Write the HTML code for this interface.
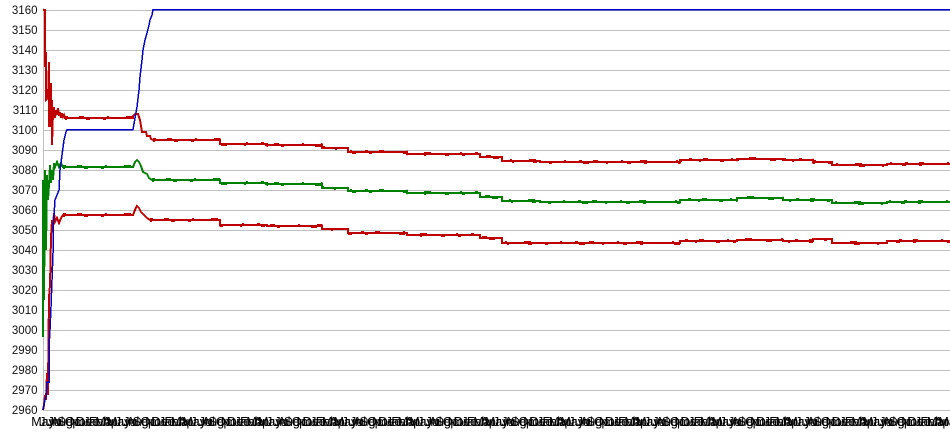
<!DOCTYPE html>
<html>
<head>
<meta charset="utf-8">
<style>
  html, body { margin:0; padding:0; background:#fff; }
  body { width:950px; height:435px; overflow:hidden; }
  svg { display:block; }
  .yl { font-family:"Liberation Sans", Arial, sans-serif; font-size:11.5px; fill:#111; }
  .xl { font-family:"Liberation Sans", Arial, sans-serif; font-size:12.5px; fill:#000; }
</style>
</head>
<body>
<svg width="950" height="435" viewBox="0 0 950 435" xmlns="http://www.w3.org/2000/svg">
  <rect x="0" y="0" width="950" height="435" fill="#fff"/>
  <!-- grid -->
  <g stroke="#c0c0c0" stroke-width="1" shape-rendering="crispEdges">
    <line x1="43" y1="10.5" x2="950" y2="10.5"/>
    <line x1="43" y1="30.5" x2="950" y2="30.5"/>
    <line x1="43" y1="50.5" x2="950" y2="50.5"/>
    <line x1="43" y1="70.5" x2="950" y2="70.5"/>
    <line x1="43" y1="90.5" x2="950" y2="90.5"/>
    <line x1="43" y1="110.5" x2="950" y2="110.5"/>
    <line x1="43" y1="130.5" x2="950" y2="130.5"/>
    <line x1="43" y1="150.5" x2="950" y2="150.5"/>
    <line x1="43" y1="170.5" x2="950" y2="170.5"/>
    <line x1="43" y1="190.5" x2="950" y2="190.5"/>
    <line x1="43" y1="210.5" x2="950" y2="210.5"/>
    <line x1="43" y1="230.5" x2="950" y2="230.5"/>
    <line x1="43" y1="250.5" x2="950" y2="250.5"/>
    <line x1="43" y1="270.5" x2="950" y2="270.5"/>
    <line x1="43" y1="290.5" x2="950" y2="290.5"/>
    <line x1="43" y1="310.5" x2="950" y2="310.5"/>
    <line x1="43" y1="330.5" x2="950" y2="330.5"/>
    <line x1="43" y1="350.5" x2="950" y2="350.5"/>
    <line x1="43" y1="370.5" x2="950" y2="370.5"/>
    <line x1="43" y1="390.5" x2="950" y2="390.5"/>
    <line x1="43" y1="410.5" x2="950" y2="410.5"/>
    <line x1="43.5" y1="8" x2="43.5" y2="411"/>
  </g>

  <!-- y labels -->
  <g class="yl" text-anchor="end">
    <text x="37.5" y="14">3160</text>
    <text x="37.5" y="34">3150</text>
    <text x="37.5" y="54">3140</text>
    <text x="37.5" y="74">3130</text>
    <text x="37.5" y="94">3120</text>
    <text x="37.5" y="114">3110</text>
    <text x="37.5" y="134">3100</text>
    <text x="37.5" y="154">3090</text>
    <text x="37.5" y="174">3080</text>
    <text x="37.5" y="194">3070</text>
    <text x="37.5" y="214">3060</text>
    <text x="37.5" y="234">3050</text>
    <text x="37.5" y="254">3040</text>
    <text x="37.5" y="274">3030</text>
    <text x="37.5" y="294">3020</text>
    <text x="37.5" y="314">3010</text>
    <text x="37.5" y="334">3000</text>
    <text x="37.5" y="354">2990</text>
    <text x="37.5" y="374">2980</text>
    <text x="37.5" y="394">2970</text>
    <text x="37.5" y="414">2960</text>
  </g>

  <g shape-rendering="crispEdges">
  <!-- green series -->
  <path fill="none" stroke="#008000" stroke-width="2"
    d="M43,337 L43,180 L44,300 L45,170 L46,250 L47,175 L48,200 L49,185 L50,165 L51,183 L52,170 L53,180 L54,163 L55,167 L57,162 L59,167 L61,163 L63,167 L133,167 L135,162 L137,160 L139,162 L141,166 L143,172 L147,174 L149,178 L152,180 L220,180 L220,183 L267,183 L267,184 L322,184 L322,188 L348,188 L348,191 L407,191 L407,193 L480,193 L480,197 L502,197 L502,201 L540,201 L540,202 L680,202 L680,200 L737,200 L737,198 L783,198 L783,200 L832,200 L832,203 L887,203 L887,202 L950,202"/>
  <path fill="none" stroke="#008000" stroke-width="1" transform="translate(0,-1.5)" stroke-dasharray="3 11 5 23 2 17 7 29 2 13"
    d="M63,167 L133,167 M152,180 L220,180 L220,183 L267,183 L267,184 L322,184 L322,188 L348,188 L348,191 L407,191 L407,193 L480,193 L480,197 L502,197 L502,201 L540,201 L540,202 L680,202 L680,200 L737,200 L737,198 L783,198 L783,200 L832,200 L832,203 L887,203 L887,202 L950,202"/>
  <path fill="none" stroke="#008000" stroke-width="1" transform="translate(0,1.5)" stroke-dasharray="2 19 4 13 3 31 6 17"
    d="M63,167 L133,167 M152,180 L220,180 L220,183 L267,183 L267,184 L322,184 L322,188 L348,188 L348,191 L407,191 L407,193 L480,193 L480,197 L502,197 L502,201 L540,201 L540,202 L680,202 L680,200 L737,200 L737,198 L783,198 L783,200 L832,200 L832,203 L887,203 L887,202 L950,202"/>

  <!-- lower red series -->
  <path fill="none" stroke="#c00000" stroke-width="2"
    d="M43,410 L44,405 L45,395 L46,400 L47,373 L48,395 L48,385 L49,297 L50,285 L51,237 L52,220 L53,227 L54,213 L55,222 L57,218 L59,223 L61,218 L63,215 L133,215 L135,210 L137,206 L139,208 L141,212 L143,214 L147,218 L150,220 L220,220 L220,225 L267,225 L267,226 L322,226 L322,229 L348,229 L348,233 L407,233 L407,235 L480,235 L480,238 L502,238 L502,243 L680,243 L680,241 L737,241 L737,240 L783,240 L783,241 L813,241 L813,239 L832,239 L832,243 L887,243 L887,241 L950,241"/>
  <path fill="none" stroke="#c00000" stroke-width="1" transform="translate(0,-1.5)" stroke-dasharray="3 11 5 23 2 17 7 29 2 13"
    d="M63,215 L133,215 M150,220 L220,220 L220,225 L267,225 L267,226 L322,226 L322,229 L348,229 L348,233 L407,233 L407,235 L480,235 L480,238 L502,238 L502,243 L680,243 L680,241 L737,241 L737,240 L783,240 L783,241 L813,241 L813,239 L832,239 L832,243 L887,243 L887,241 L950,241"/>
  <path fill="none" stroke="#c00000" stroke-width="1" transform="translate(0,1.5)" stroke-dasharray="2 19 4 13 3 31 6 17"
    d="M63,215 L133,215 M150,220 L220,220 L220,225 L267,225 L267,226 L322,226 L322,229 L348,229 L348,233 L407,233 L407,235 L480,235 L480,238 L502,238 L502,243 L680,243 L680,241 L737,241 L737,240 L783,240 L783,241 L813,241 L813,239 L832,239 L832,243 L887,243 L887,241 L950,241"/>

  <!-- upper red series -->
  <path fill="none" stroke="#c00000" stroke-width="2"
    d="M43,10 L45,10 L45,67 L46,52 L46,100 L48,98 L49,62 L49,127 L51,83 L51,127 L52,100 L52,145 L53,112 L54,107 L55,118 L56,110 L57,115 L58,108 L59,116 L60,112 L61,118 L62,113 L63,117 L64,115 L65,118 L133,118 L133,116 L135,114 L138,114 L139,117 L140,120 L141,126 L142,132 L146,132 L147,136 L150,136 L151,139 L153,140 L220,140 L220,144 L267,144 L267,145 L322,145 L322,148 L348,148 L348,152 L407,152 L407,154 L480,154 L480,157 L502,157 L502,161 L540,161 L540,162 L680,162 L680,160 L737,160 L737,159 L783,159 L783,160 L813,160 L813,162 L832,162 L832,165 L887,165 L887,164 L950,164"/>
  <path fill="none" stroke="#c00000" stroke-width="1" transform="translate(0,-1.5)" stroke-dasharray="3 11 5 23 2 17 7 29 2 13"
    d="M65,118 L133,118 M153,140 L220,140 L220,144 L267,144 L267,145 L322,145 L322,148 L348,148 L348,152 L407,152 L407,154 L480,154 L480,157 L502,157 L502,161 L540,161 L540,162 L680,162 L680,160 L737,160 L737,159 L783,159 L783,160 L813,160 L813,162 L832,162 L832,165 L887,165 L887,164 L950,164"/>
  <path fill="none" stroke="#c00000" stroke-width="1" transform="translate(0,1.5)" stroke-dasharray="2 19 4 13 3 31 6 17"
    d="M65,118 L133,118 M153,140 L220,140 L220,144 L267,144 L267,145 L322,145 L322,148 L348,148 L348,152 L407,152 L407,154 L480,154 L480,157 L502,157 L502,161 L540,161 L540,162 L680,162 L680,160 L737,160 L737,159 L783,159 L783,160 L813,160 L813,162 L832,162 L832,165 L887,165 L887,164 L950,164"/>

  <!-- blue series -->
  <path fill="none" stroke="#0000c0" stroke-width="1.5"
    d="M43,410 L44,405 L45,400 L46,397 L47,382 L49,382 L49,347 L50,330 L51,307 L52,280 L53,253 L53,230 L55,200 L57,195 L59,190 L60,170 L62,155 L64,140 L66,132 L67,129.5 L133,129.5 L135,118 L137,107 L139,90 L140,77 L142,60 L143,50 L145,40 L147,33 L149,25 L150,20 L152,15 L153,9.5 L950,9.5"/>
  </g>

  <!-- x labels -->
  <g class="xl" text-anchor="middle">
    <g transform="translate(43,426)"><text x="0">May</text><text x="6.3">Jun</text><text x="12.6">Jul</text><text x="18.9">Aug</text><text x="25.2">Sep</text><text x="31.5">Oct</text><text x="37.8">Nov</text><text x="44.1">Dec</text><text x="50.4">Jan</text><text x="56.7">Feb</text><text x="63">Mar</text><text x="69.3">Apr</text></g>
    <g transform="translate(118.6,426)"><text x="0">May</text><text x="6.3">Jun</text><text x="12.6">Jul</text><text x="18.9">Aug</text><text x="25.2">Sep</text><text x="31.5">Oct</text><text x="37.8">Nov</text><text x="44.1">Dec</text><text x="50.4">Jan</text><text x="56.7">Feb</text><text x="63">Mar</text><text x="69.3">Apr</text></g>
    <g transform="translate(194.2,426)"><text x="0">May</text><text x="6.3">Jun</text><text x="12.6">Jul</text><text x="18.9">Aug</text><text x="25.2">Sep</text><text x="31.5">Oct</text><text x="37.8">Nov</text><text x="44.1">Dec</text><text x="50.4">Jan</text><text x="56.7">Feb</text><text x="63">Mar</text><text x="69.3">Apr</text></g>
    <g transform="translate(269.8,426)"><text x="0">May</text><text x="6.3">Jun</text><text x="12.6">Jul</text><text x="18.9">Aug</text><text x="25.2">Sep</text><text x="31.5">Oct</text><text x="37.8">Nov</text><text x="44.1">Dec</text><text x="50.4">Jan</text><text x="56.7">Feb</text><text x="63">Mar</text><text x="69.3">Apr</text></g>
    <g transform="translate(345.4,426)"><text x="0">May</text><text x="6.3">Jun</text><text x="12.6">Jul</text><text x="18.9">Aug</text><text x="25.2">Sep</text><text x="31.5">Oct</text><text x="37.8">Nov</text><text x="44.1">Dec</text><text x="50.4">Jan</text><text x="56.7">Feb</text><text x="63">Mar</text><text x="69.3">Apr</text></g>
    <g transform="translate(421,426)"><text x="0">May</text><text x="6.3">Jun</text><text x="12.6">Jul</text><text x="18.9">Aug</text><text x="25.2">Sep</text><text x="31.5">Oct</text><text x="37.8">Nov</text><text x="44.1">Dec</text><text x="50.4">Jan</text><text x="56.7">Feb</text><text x="63">Mar</text><text x="69.3">Apr</text></g>
    <g transform="translate(496.6,426)"><text x="0">May</text><text x="6.3">Jun</text><text x="12.6">Jul</text><text x="18.9">Aug</text><text x="25.2">Sep</text><text x="31.5">Oct</text><text x="37.8">Nov</text><text x="44.1">Dec</text><text x="50.4">Jan</text><text x="56.7">Feb</text><text x="63">Mar</text><text x="69.3">Apr</text></g>
    <g transform="translate(572.2,426)"><text x="0">May</text><text x="6.3">Jun</text><text x="12.6">Jul</text><text x="18.9">Aug</text><text x="25.2">Sep</text><text x="31.5">Oct</text><text x="37.8">Nov</text><text x="44.1">Dec</text><text x="50.4">Jan</text><text x="56.7">Feb</text><text x="63">Mar</text><text x="69.3">Apr</text></g>
    <g transform="translate(647.8,426)"><text x="0">May</text><text x="6.3">Jun</text><text x="12.6">Jul</text><text x="18.9">Aug</text><text x="25.2">Sep</text><text x="31.5">Oct</text><text x="37.8">Nov</text><text x="44.1">Dec</text><text x="50.4">Jan</text><text x="56.7">Feb</text><text x="63">Mar</text><text x="69.3">Apr</text></g>
    <g transform="translate(723.4,426)"><text x="0">May</text><text x="6.3">Jun</text><text x="12.6">Jul</text><text x="18.9">Aug</text><text x="25.2">Sep</text><text x="31.5">Oct</text><text x="37.8">Nov</text><text x="44.1">Dec</text><text x="50.4">Jan</text><text x="56.7">Feb</text><text x="63">Mar</text><text x="69.3">Apr</text></g>
    <g transform="translate(799,426)"><text x="0">May</text><text x="6.3">Jun</text><text x="12.6">Jul</text><text x="18.9">Aug</text><text x="25.2">Sep</text><text x="31.5">Oct</text><text x="37.8">Nov</text><text x="44.1">Dec</text><text x="50.4">Jan</text><text x="56.7">Feb</text><text x="63">Mar</text><text x="69.3">Apr</text></g>
    <g transform="translate(874.6,426)"><text x="0">May</text><text x="6.3">Jun</text><text x="12.6">Jul</text><text x="18.9">Aug</text><text x="25.2">Sep</text><text x="31.5">Oct</text><text x="37.8">Nov</text><text x="44.1">Dec</text><text x="50.4">Jan</text><text x="56.7">Feb</text><text x="63">Mar</text><text x="69.3">Apr</text><text x="75.6">May</text></g>
  </g>
</svg>
</body>
</html>
